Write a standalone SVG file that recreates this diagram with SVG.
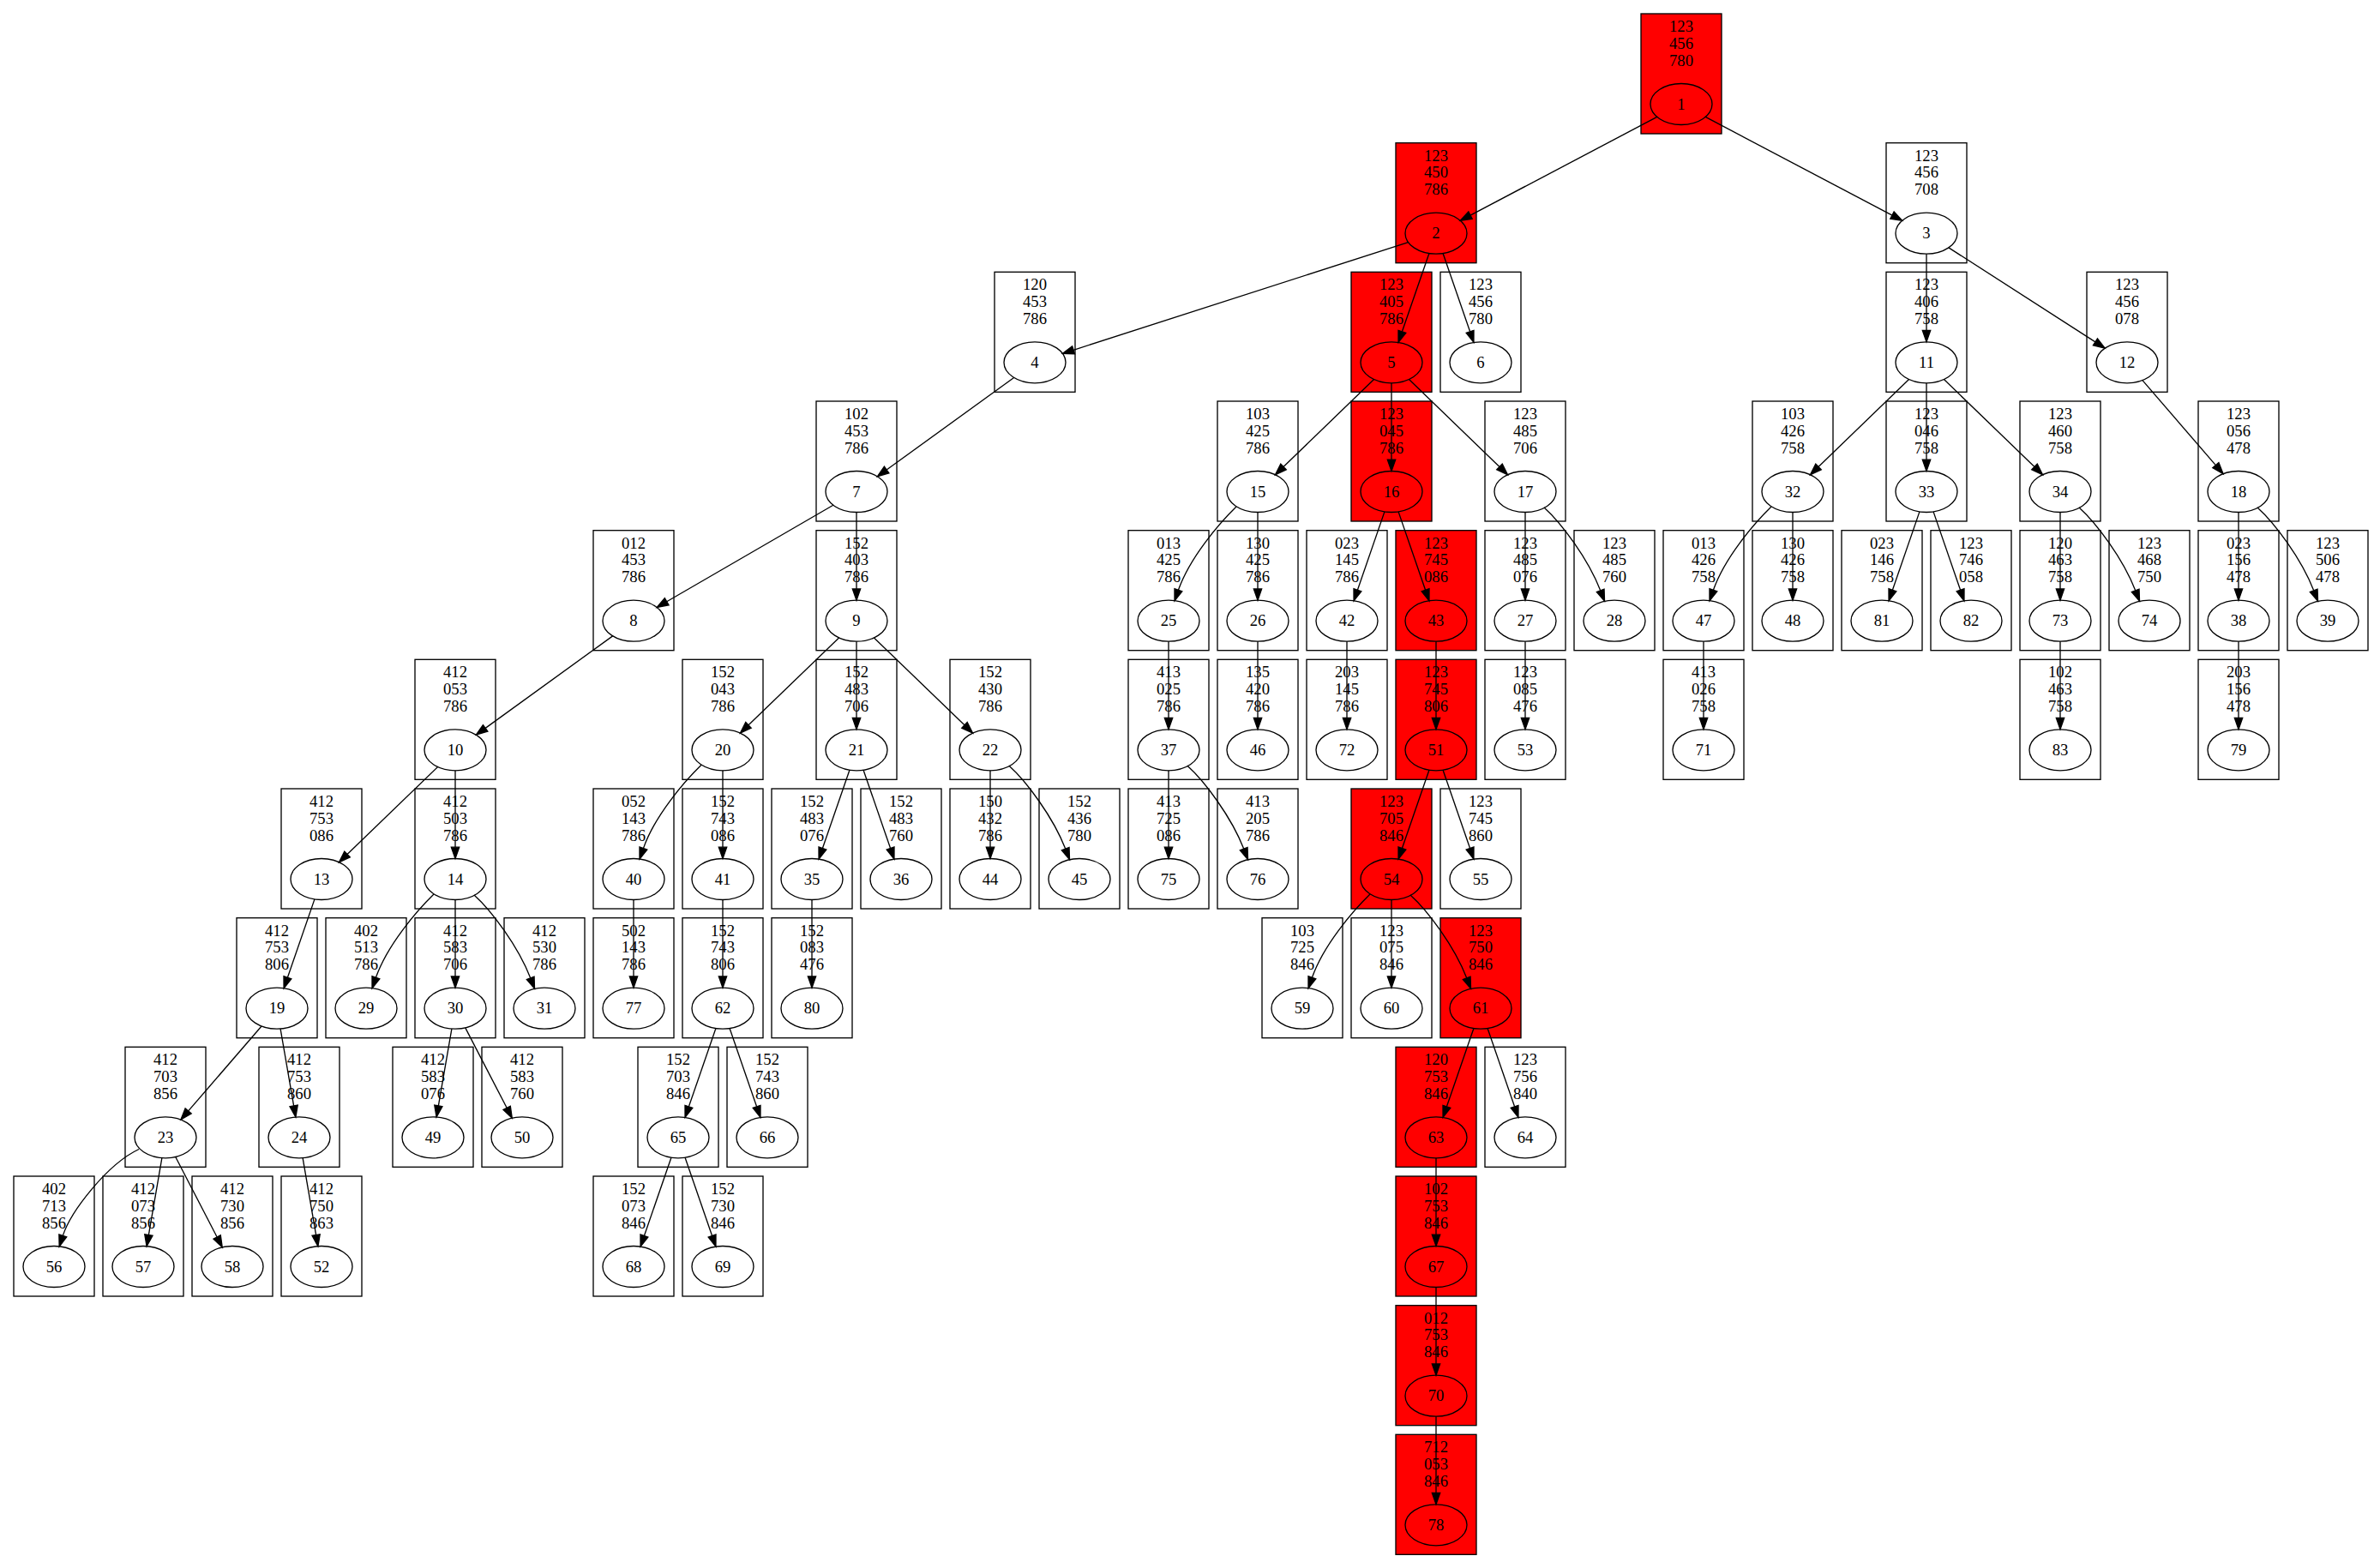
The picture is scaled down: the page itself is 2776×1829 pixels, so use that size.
<svg xmlns="http://www.w3.org/2000/svg" width="2776" height="1829" viewBox="0 0 2776 1829">
<style>
.node use{fill:#fff;stroke:#000;stroke-width:1.33}
.red use{fill:#f00}
text{font-family:"Liberation Serif","Times New Roman",serif;font-size:18.67px;text-anchor:middle;fill:#000;stroke:none}
#edges path{fill:none;stroke:#000;stroke-width:1.33;marker-end:url(#arr)}
</style>
<defs>
<marker id="arr" markerUnits="userSpaceOnUse" markerWidth="16" markerHeight="12" refX="0" refY="5" orient="auto" overflow="visible"><path d="M0,0.33 L13.33,5 L0,9.67 Z" fill="#000" stroke="#000" stroke-width="1.33"/></marker>
<g id="shape"><rect x="0" y="0" width="94" height="140"/><ellipse cx="47" cy="105.5" rx="36" ry="24"/></g>
</defs>
<rect width="2776" height="1829" fill="#fff"/>
<g id="nodes">
<g id="n1" class="node red" transform="translate(1914,16)"><use href="#shape"/><text x="47" y="21">123<tspan x="47" dy="19.8">456</tspan><tspan x="47" dy="19.8">780</tspan></text><text x="47" y="111.6">1</text></g>
<g id="n2" class="node red" transform="translate(1628,166.7)"><use href="#shape"/><text x="47" y="21">123<tspan x="47" dy="19.8">450</tspan><tspan x="47" dy="19.8">786</tspan></text><text x="47" y="111.6">2</text></g>
<g id="n3" class="node" transform="translate(2200,166.7)"><use href="#shape"/><text x="47" y="21">123<tspan x="47" dy="19.8">456</tspan><tspan x="47" dy="19.8">708</tspan></text><text x="47" y="111.6">3</text></g>
<g id="n4" class="node" transform="translate(1160,317.3)"><use href="#shape"/><text x="47" y="21">120<tspan x="47" dy="19.8">453</tspan><tspan x="47" dy="19.8">786</tspan></text><text x="47" y="111.6">4</text></g>
<g id="n5" class="node red" transform="translate(1576,317.3)"><use href="#shape"/><text x="47" y="21">123<tspan x="47" dy="19.8">405</tspan><tspan x="47" dy="19.8">786</tspan></text><text x="47" y="111.6">5</text></g>
<g id="n6" class="node" transform="translate(1680,317.3)"><use href="#shape"/><text x="47" y="21">123<tspan x="47" dy="19.8">456</tspan><tspan x="47" dy="19.8">780</tspan></text><text x="47" y="111.6">6</text></g>
<g id="n11" class="node" transform="translate(2200,317.3)"><use href="#shape"/><text x="47" y="21">123<tspan x="47" dy="19.8">406</tspan><tspan x="47" dy="19.8">758</tspan></text><text x="47" y="111.6">11</text></g>
<g id="n12" class="node" transform="translate(2434,317.3)"><use href="#shape"/><text x="47" y="21">123<tspan x="47" dy="19.8">456</tspan><tspan x="47" dy="19.8">078</tspan></text><text x="47" y="111.6">12</text></g>
<g id="n7" class="node" transform="translate(952,468)"><use href="#shape"/><text x="47" y="21">102<tspan x="47" dy="19.8">453</tspan><tspan x="47" dy="19.8">786</tspan></text><text x="47" y="111.6">7</text></g>
<g id="n15" class="node" transform="translate(1420,468)"><use href="#shape"/><text x="47" y="21">103<tspan x="47" dy="19.8">425</tspan><tspan x="47" dy="19.8">786</tspan></text><text x="47" y="111.6">15</text></g>
<g id="n16" class="node red" transform="translate(1576,468)"><use href="#shape"/><text x="47" y="21">123<tspan x="47" dy="19.8">045</tspan><tspan x="47" dy="19.8">786</tspan></text><text x="47" y="111.6">16</text></g>
<g id="n17" class="node" transform="translate(1732,468)"><use href="#shape"/><text x="47" y="21">123<tspan x="47" dy="19.8">485</tspan><tspan x="47" dy="19.8">706</tspan></text><text x="47" y="111.6">17</text></g>
<g id="n32" class="node" transform="translate(2044,468)"><use href="#shape"/><text x="47" y="21">103<tspan x="47" dy="19.8">426</tspan><tspan x="47" dy="19.8">758</tspan></text><text x="47" y="111.6">32</text></g>
<g id="n33" class="node" transform="translate(2200,468)"><use href="#shape"/><text x="47" y="21">123<tspan x="47" dy="19.8">046</tspan><tspan x="47" dy="19.8">758</tspan></text><text x="47" y="111.6">33</text></g>
<g id="n34" class="node" transform="translate(2356,468)"><use href="#shape"/><text x="47" y="21">123<tspan x="47" dy="19.8">460</tspan><tspan x="47" dy="19.8">758</tspan></text><text x="47" y="111.6">34</text></g>
<g id="n18" class="node" transform="translate(2564,468)"><use href="#shape"/><text x="47" y="21">123<tspan x="47" dy="19.8">056</tspan><tspan x="47" dy="19.8">478</tspan></text><text x="47" y="111.6">18</text></g>
<g id="n8" class="node" transform="translate(692,618.7)"><use href="#shape"/><text x="47" y="21">012<tspan x="47" dy="19.8">453</tspan><tspan x="47" dy="19.8">786</tspan></text><text x="47" y="111.6">8</text></g>
<g id="n9" class="node" transform="translate(952,618.7)"><use href="#shape"/><text x="47" y="21">152<tspan x="47" dy="19.8">403</tspan><tspan x="47" dy="19.8">786</tspan></text><text x="47" y="111.6">9</text></g>
<g id="n25" class="node" transform="translate(1316,618.7)"><use href="#shape"/><text x="47" y="21">013<tspan x="47" dy="19.8">425</tspan><tspan x="47" dy="19.8">786</tspan></text><text x="47" y="111.6">25</text></g>
<g id="n26" class="node" transform="translate(1420,618.7)"><use href="#shape"/><text x="47" y="21">130<tspan x="47" dy="19.8">425</tspan><tspan x="47" dy="19.8">786</tspan></text><text x="47" y="111.6">26</text></g>
<g id="n42" class="node" transform="translate(1524,618.7)"><use href="#shape"/><text x="47" y="21">023<tspan x="47" dy="19.8">145</tspan><tspan x="47" dy="19.8">786</tspan></text><text x="47" y="111.6">42</text></g>
<g id="n43" class="node red" transform="translate(1628,618.7)"><use href="#shape"/><text x="47" y="21">123<tspan x="47" dy="19.8">745</tspan><tspan x="47" dy="19.8">086</tspan></text><text x="47" y="111.6">43</text></g>
<g id="n27" class="node" transform="translate(1732,618.7)"><use href="#shape"/><text x="47" y="21">123<tspan x="47" dy="19.8">485</tspan><tspan x="47" dy="19.8">076</tspan></text><text x="47" y="111.6">27</text></g>
<g id="n28" class="node" transform="translate(1836,618.7)"><use href="#shape"/><text x="47" y="21">123<tspan x="47" dy="19.8">485</tspan><tspan x="47" dy="19.8">760</tspan></text><text x="47" y="111.6">28</text></g>
<g id="n47" class="node" transform="translate(1940,618.7)"><use href="#shape"/><text x="47" y="21">013<tspan x="47" dy="19.8">426</tspan><tspan x="47" dy="19.8">758</tspan></text><text x="47" y="111.6">47</text></g>
<g id="n48" class="node" transform="translate(2044,618.7)"><use href="#shape"/><text x="47" y="21">130<tspan x="47" dy="19.8">426</tspan><tspan x="47" dy="19.8">758</tspan></text><text x="47" y="111.6">48</text></g>
<g id="n81" class="node" transform="translate(2148,618.7)"><use href="#shape"/><text x="47" y="21">023<tspan x="47" dy="19.8">146</tspan><tspan x="47" dy="19.8">758</tspan></text><text x="47" y="111.6">81</text></g>
<g id="n82" class="node" transform="translate(2252,618.7)"><use href="#shape"/><text x="47" y="21">123<tspan x="47" dy="19.8">746</tspan><tspan x="47" dy="19.8">058</tspan></text><text x="47" y="111.6">82</text></g>
<g id="n73" class="node" transform="translate(2356,618.7)"><use href="#shape"/><text x="47" y="21">120<tspan x="47" dy="19.8">463</tspan><tspan x="47" dy="19.8">758</tspan></text><text x="47" y="111.6">73</text></g>
<g id="n74" class="node" transform="translate(2460,618.7)"><use href="#shape"/><text x="47" y="21">123<tspan x="47" dy="19.8">468</tspan><tspan x="47" dy="19.8">750</tspan></text><text x="47" y="111.6">74</text></g>
<g id="n38" class="node" transform="translate(2564,618.7)"><use href="#shape"/><text x="47" y="21">023<tspan x="47" dy="19.8">156</tspan><tspan x="47" dy="19.8">478</tspan></text><text x="47" y="111.6">38</text></g>
<g id="n39" class="node" transform="translate(2668,618.7)"><use href="#shape"/><text x="47" y="21">123<tspan x="47" dy="19.8">506</tspan><tspan x="47" dy="19.8">478</tspan></text><text x="47" y="111.6">39</text></g>
<g id="n10" class="node" transform="translate(484,769.3)"><use href="#shape"/><text x="47" y="21">412<tspan x="47" dy="19.8">053</tspan><tspan x="47" dy="19.8">786</tspan></text><text x="47" y="111.6">10</text></g>
<g id="n20" class="node" transform="translate(796,769.3)"><use href="#shape"/><text x="47" y="21">152<tspan x="47" dy="19.8">043</tspan><tspan x="47" dy="19.8">786</tspan></text><text x="47" y="111.6">20</text></g>
<g id="n21" class="node" transform="translate(952,769.3)"><use href="#shape"/><text x="47" y="21">152<tspan x="47" dy="19.8">483</tspan><tspan x="47" dy="19.8">706</tspan></text><text x="47" y="111.6">21</text></g>
<g id="n22" class="node" transform="translate(1108,769.3)"><use href="#shape"/><text x="47" y="21">152<tspan x="47" dy="19.8">430</tspan><tspan x="47" dy="19.8">786</tspan></text><text x="47" y="111.6">22</text></g>
<g id="n37" class="node" transform="translate(1316,769.3)"><use href="#shape"/><text x="47" y="21">413<tspan x="47" dy="19.8">025</tspan><tspan x="47" dy="19.8">786</tspan></text><text x="47" y="111.6">37</text></g>
<g id="n46" class="node" transform="translate(1420,769.3)"><use href="#shape"/><text x="47" y="21">135<tspan x="47" dy="19.8">420</tspan><tspan x="47" dy="19.8">786</tspan></text><text x="47" y="111.6">46</text></g>
<g id="n72" class="node" transform="translate(1524,769.3)"><use href="#shape"/><text x="47" y="21">203<tspan x="47" dy="19.8">145</tspan><tspan x="47" dy="19.8">786</tspan></text><text x="47" y="111.6">72</text></g>
<g id="n51" class="node red" transform="translate(1628,769.3)"><use href="#shape"/><text x="47" y="21">123<tspan x="47" dy="19.8">745</tspan><tspan x="47" dy="19.8">806</tspan></text><text x="47" y="111.6">51</text></g>
<g id="n53" class="node" transform="translate(1732,769.3)"><use href="#shape"/><text x="47" y="21">123<tspan x="47" dy="19.8">085</tspan><tspan x="47" dy="19.8">476</tspan></text><text x="47" y="111.6">53</text></g>
<g id="n71" class="node" transform="translate(1940,769.3)"><use href="#shape"/><text x="47" y="21">413<tspan x="47" dy="19.8">026</tspan><tspan x="47" dy="19.8">758</tspan></text><text x="47" y="111.6">71</text></g>
<g id="n83" class="node" transform="translate(2356,769.3)"><use href="#shape"/><text x="47" y="21">102<tspan x="47" dy="19.8">463</tspan><tspan x="47" dy="19.8">758</tspan></text><text x="47" y="111.6">83</text></g>
<g id="n79" class="node" transform="translate(2564,769.3)"><use href="#shape"/><text x="47" y="21">203<tspan x="47" dy="19.8">156</tspan><tspan x="47" dy="19.8">478</tspan></text><text x="47" y="111.6">79</text></g>
<g id="n13" class="node" transform="translate(328,920)"><use href="#shape"/><text x="47" y="21">412<tspan x="47" dy="19.8">753</tspan><tspan x="47" dy="19.8">086</tspan></text><text x="47" y="111.6">13</text></g>
<g id="n14" class="node" transform="translate(484,920)"><use href="#shape"/><text x="47" y="21">412<tspan x="47" dy="19.8">503</tspan><tspan x="47" dy="19.8">786</tspan></text><text x="47" y="111.6">14</text></g>
<g id="n40" class="node" transform="translate(692,920)"><use href="#shape"/><text x="47" y="21">052<tspan x="47" dy="19.8">143</tspan><tspan x="47" dy="19.8">786</tspan></text><text x="47" y="111.6">40</text></g>
<g id="n41" class="node" transform="translate(796,920)"><use href="#shape"/><text x="47" y="21">152<tspan x="47" dy="19.8">743</tspan><tspan x="47" dy="19.8">086</tspan></text><text x="47" y="111.6">41</text></g>
<g id="n35" class="node" transform="translate(900,920)"><use href="#shape"/><text x="47" y="21">152<tspan x="47" dy="19.8">483</tspan><tspan x="47" dy="19.8">076</tspan></text><text x="47" y="111.6">35</text></g>
<g id="n36" class="node" transform="translate(1004,920)"><use href="#shape"/><text x="47" y="21">152<tspan x="47" dy="19.8">483</tspan><tspan x="47" dy="19.8">760</tspan></text><text x="47" y="111.6">36</text></g>
<g id="n44" class="node" transform="translate(1108,920)"><use href="#shape"/><text x="47" y="21">150<tspan x="47" dy="19.8">432</tspan><tspan x="47" dy="19.8">786</tspan></text><text x="47" y="111.6">44</text></g>
<g id="n45" class="node" transform="translate(1212,920)"><use href="#shape"/><text x="47" y="21">152<tspan x="47" dy="19.8">436</tspan><tspan x="47" dy="19.8">780</tspan></text><text x="47" y="111.6">45</text></g>
<g id="n75" class="node" transform="translate(1316,920)"><use href="#shape"/><text x="47" y="21">413<tspan x="47" dy="19.8">725</tspan><tspan x="47" dy="19.8">086</tspan></text><text x="47" y="111.6">75</text></g>
<g id="n76" class="node" transform="translate(1420,920)"><use href="#shape"/><text x="47" y="21">413<tspan x="47" dy="19.8">205</tspan><tspan x="47" dy="19.8">786</tspan></text><text x="47" y="111.6">76</text></g>
<g id="n54" class="node red" transform="translate(1576,920)"><use href="#shape"/><text x="47" y="21">123<tspan x="47" dy="19.8">705</tspan><tspan x="47" dy="19.8">846</tspan></text><text x="47" y="111.6">54</text></g>
<g id="n55" class="node" transform="translate(1680,920)"><use href="#shape"/><text x="47" y="21">123<tspan x="47" dy="19.8">745</tspan><tspan x="47" dy="19.8">860</tspan></text><text x="47" y="111.6">55</text></g>
<g id="n19" class="node" transform="translate(276,1070.7)"><use href="#shape"/><text x="47" y="21">412<tspan x="47" dy="19.8">753</tspan><tspan x="47" dy="19.8">806</tspan></text><text x="47" y="111.6">19</text></g>
<g id="n29" class="node" transform="translate(380,1070.7)"><use href="#shape"/><text x="47" y="21">402<tspan x="47" dy="19.8">513</tspan><tspan x="47" dy="19.8">786</tspan></text><text x="47" y="111.6">29</text></g>
<g id="n30" class="node" transform="translate(484,1070.7)"><use href="#shape"/><text x="47" y="21">412<tspan x="47" dy="19.8">583</tspan><tspan x="47" dy="19.8">706</tspan></text><text x="47" y="111.6">30</text></g>
<g id="n31" class="node" transform="translate(588,1070.7)"><use href="#shape"/><text x="47" y="21">412<tspan x="47" dy="19.8">530</tspan><tspan x="47" dy="19.8">786</tspan></text><text x="47" y="111.6">31</text></g>
<g id="n77" class="node" transform="translate(692,1070.7)"><use href="#shape"/><text x="47" y="21">502<tspan x="47" dy="19.8">143</tspan><tspan x="47" dy="19.8">786</tspan></text><text x="47" y="111.6">77</text></g>
<g id="n62" class="node" transform="translate(796,1070.7)"><use href="#shape"/><text x="47" y="21">152<tspan x="47" dy="19.8">743</tspan><tspan x="47" dy="19.8">806</tspan></text><text x="47" y="111.6">62</text></g>
<g id="n80" class="node" transform="translate(900,1070.7)"><use href="#shape"/><text x="47" y="21">152<tspan x="47" dy="19.8">083</tspan><tspan x="47" dy="19.8">476</tspan></text><text x="47" y="111.6">80</text></g>
<g id="n59" class="node" transform="translate(1472,1070.7)"><use href="#shape"/><text x="47" y="21">103<tspan x="47" dy="19.8">725</tspan><tspan x="47" dy="19.8">846</tspan></text><text x="47" y="111.6">59</text></g>
<g id="n60" class="node" transform="translate(1576,1070.7)"><use href="#shape"/><text x="47" y="21">123<tspan x="47" dy="19.8">075</tspan><tspan x="47" dy="19.8">846</tspan></text><text x="47" y="111.6">60</text></g>
<g id="n61" class="node red" transform="translate(1680,1070.7)"><use href="#shape"/><text x="47" y="21">123<tspan x="47" dy="19.8">750</tspan><tspan x="47" dy="19.8">846</tspan></text><text x="47" y="111.6">61</text></g>
<g id="n23" class="node" transform="translate(146,1221.3)"><use href="#shape"/><text x="47" y="21">412<tspan x="47" dy="19.8">703</tspan><tspan x="47" dy="19.8">856</tspan></text><text x="47" y="111.6">23</text></g>
<g id="n24" class="node" transform="translate(302,1221.3)"><use href="#shape"/><text x="47" y="21">412<tspan x="47" dy="19.8">753</tspan><tspan x="47" dy="19.8">860</tspan></text><text x="47" y="111.6">24</text></g>
<g id="n49" class="node" transform="translate(458,1221.3)"><use href="#shape"/><text x="47" y="21">412<tspan x="47" dy="19.8">583</tspan><tspan x="47" dy="19.8">076</tspan></text><text x="47" y="111.6">49</text></g>
<g id="n50" class="node" transform="translate(562,1221.3)"><use href="#shape"/><text x="47" y="21">412<tspan x="47" dy="19.8">583</tspan><tspan x="47" dy="19.8">760</tspan></text><text x="47" y="111.6">50</text></g>
<g id="n65" class="node" transform="translate(744,1221.3)"><use href="#shape"/><text x="47" y="21">152<tspan x="47" dy="19.8">703</tspan><tspan x="47" dy="19.8">846</tspan></text><text x="47" y="111.6">65</text></g>
<g id="n66" class="node" transform="translate(848,1221.3)"><use href="#shape"/><text x="47" y="21">152<tspan x="47" dy="19.8">743</tspan><tspan x="47" dy="19.8">860</tspan></text><text x="47" y="111.6">66</text></g>
<g id="n63" class="node red" transform="translate(1628,1221.3)"><use href="#shape"/><text x="47" y="21">120<tspan x="47" dy="19.8">753</tspan><tspan x="47" dy="19.8">846</tspan></text><text x="47" y="111.6">63</text></g>
<g id="n64" class="node" transform="translate(1732,1221.3)"><use href="#shape"/><text x="47" y="21">123<tspan x="47" dy="19.8">756</tspan><tspan x="47" dy="19.8">840</tspan></text><text x="47" y="111.6">64</text></g>
<g id="n56" class="node" transform="translate(16,1372)"><use href="#shape"/><text x="47" y="21">402<tspan x="47" dy="19.8">713</tspan><tspan x="47" dy="19.8">856</tspan></text><text x="47" y="111.6">56</text></g>
<g id="n57" class="node" transform="translate(120,1372)"><use href="#shape"/><text x="47" y="21">412<tspan x="47" dy="19.8">073</tspan><tspan x="47" dy="19.8">856</tspan></text><text x="47" y="111.6">57</text></g>
<g id="n58" class="node" transform="translate(224,1372)"><use href="#shape"/><text x="47" y="21">412<tspan x="47" dy="19.8">730</tspan><tspan x="47" dy="19.8">856</tspan></text><text x="47" y="111.6">58</text></g>
<g id="n52" class="node" transform="translate(328,1372)"><use href="#shape"/><text x="47" y="21">412<tspan x="47" dy="19.8">750</tspan><tspan x="47" dy="19.8">863</tspan></text><text x="47" y="111.6">52</text></g>
<g id="n68" class="node" transform="translate(692,1372)"><use href="#shape"/><text x="47" y="21">152<tspan x="47" dy="19.8">073</tspan><tspan x="47" dy="19.8">846</tspan></text><text x="47" y="111.6">68</text></g>
<g id="n69" class="node" transform="translate(796,1372)"><use href="#shape"/><text x="47" y="21">152<tspan x="47" dy="19.8">730</tspan><tspan x="47" dy="19.8">846</tspan></text><text x="47" y="111.6">69</text></g>
<g id="n67" class="node red" transform="translate(1628,1372)"><use href="#shape"/><text x="47" y="21">102<tspan x="47" dy="19.8">753</tspan><tspan x="47" dy="19.8">846</tspan></text><text x="47" y="111.6">67</text></g>
<g id="n70" class="node red" transform="translate(1628,1522.7)"><use href="#shape"/><text x="47" y="21">012<tspan x="47" dy="19.8">753</tspan><tspan x="47" dy="19.8">846</tspan></text><text x="47" y="111.6">70</text></g>
<g id="n78" class="node red" transform="translate(1628,1673.3)"><use href="#shape"/><text x="47" y="21">712<tspan x="47" dy="19.8">053</tspan><tspan x="47" dy="19.8">846</tspan></text><text x="47" y="111.6">78</text></g>
</g>
<g id="edges">
<path d="M1932.75,136.38 L1715.02,251.12"/>
<path d="M1989.25,136.38 L2206.98,251.12"/>
<path d="M1642.58,282.64 L1252.08,408.28"/>
<path d="M1666.93,295.59 L1635.41,386.84"/>
<path d="M1683.07,295.59 L1714.59,386.84"/>
<path d="M2247,296.2 L2247,385.5"/>
<path d="M2272.89,288.87 L2443.93,398.93"/>
<path d="M1182.62,440.46 L1034.15,548.04"/>
<path d="M1602.55,442.55 L1497.02,544.51"/>
<path d="M1623,446.8 L1623,536.2"/>
<path d="M1643.45,442.55 L1748.98,544.51"/>
<path d="M2226.55,442.55 L2121.02,544.51"/>
<path d="M2247,446.8 L2247,536.2"/>
<path d="M2267.45,442.55 L2372.98,544.51"/>
<path d="M2498.95,443.6 L2584.36,542.63"/>
<path d="M971.83,589.25 L777.68,701.78"/>
<path d="M999,597.5 L999,686.9"/>
<path d="M1442,591 c-20,19.5 -54.4,59.5 -67.6,97.3"/>
<path d="M1467,597.5 L1467,686.9"/>
<path d="M1614.93,596.89 L1583.41,688.24"/>
<path d="M1631.07,596.89 L1662.59,688.24"/>
<path d="M1779,597.5 L1779,686.9"/>
<path d="M1801,592 c20,18 51.3,59.6 65.7,96.8"/>
<path d="M2066,591 c-20,19.5 -54.4,59.5 -67.6,97.3"/>
<path d="M2091,597.5 L2091,686.9"/>
<path d="M2238.93,596.89 L2207.41,688.24"/>
<path d="M2255.07,596.89 L2286.59,688.24"/>
<path d="M2403,597.5 L2403,686.9"/>
<path d="M2425,592 c20,18 51.3,59.6 65.7,96.8"/>
<path d="M2611,597.5 L2611,686.9"/>
<path d="M2633,592 c20,18 51.3,59.6 65.7,96.8"/>
<path d="M714.62,741.86 L566.15,849.34"/>
<path d="M978.55,743.95 L873.02,845.81"/>
<path d="M999,748.2 L999,837.5"/>
<path d="M1019.45,743.95 L1124.98,845.81"/>
<path d="M1363,748.2 L1363,837.5"/>
<path d="M1467,748.2 L1467,837.5"/>
<path d="M1571,748.2 L1571,837.5"/>
<path d="M1675,748.2 L1675,837.5"/>
<path d="M1779,748.2 L1779,837.5"/>
<path d="M1987,748.2 L1987,837.5"/>
<path d="M2403,748.2 L2403,837.5"/>
<path d="M2611,748.2 L2611,837.5"/>
<path d="M510.55,894.55 L405.02,996.51"/>
<path d="M531,898.8 L531,988.2"/>
<path d="M818,892.3 c-20,19.5 -54.4,59.5 -67.6,97.3"/>
<path d="M843,898.8 L843,988.2"/>
<path d="M990.93,898.19 L959.41,989.54"/>
<path d="M1007.07,898.19 L1038.59,989.54"/>
<path d="M1155,898.8 L1155,988.2"/>
<path d="M1177,893.3 c20,18 51.3,59.6 65.7,96.8"/>
<path d="M1363,898.8 L1363,988.2"/>
<path d="M1385,893.3 c20,18 51.3,59.6 65.7,96.8"/>
<path d="M1666.93,898.19 L1635.41,989.54"/>
<path d="M1683.07,898.19 L1714.59,989.54"/>
<path d="M366.93,1048.89 L335.41,1140.24"/>
<path d="M506,1043 c-20,19.5 -54.4,59.5 -67.6,97.3"/>
<path d="M531,1049.5 L531,1138.9"/>
<path d="M553,1044 c20,18 51.3,59.6 65.7,96.8"/>
<path d="M739,1049.5 L739,1138.9"/>
<path d="M843,1049.5 L843,1138.9"/>
<path d="M947,1049.5 L947,1138.9"/>
<path d="M1598,1043 c-20,19.5 -54.4,59.5 -67.6,97.3"/>
<path d="M1623,1049.5 L1623,1138.9"/>
<path d="M1645,1044 c20,18 51.3,59.6 65.7,96.8"/>
<path d="M305.05,1197 L219.64,1295.93"/>
<path d="M327.11,1200.04 L342.63,1289.85"/>
<path d="M526.89,1200.04 L511.37,1289.85"/>
<path d="M542.75,1198.89 L591.14,1292.3"/>
<path d="M834.93,1199.59 L803.41,1290.84"/>
<path d="M851.07,1199.59 L882.59,1290.84"/>
<path d="M1718.93,1199.59 L1687.41,1290.84"/>
<path d="M1735.07,1199.59 L1766.59,1290.84"/>
<path d="M162,1340.5 C125,1358 82.6,1412.9 73.3,1441.4"/>
<path d="M188.89,1350.64 L173.37,1440.55"/>
<path d="M204.75,1349.49 L253.14,1443"/>
<path d="M353.11,1350.64 L368.63,1440.55"/>
<path d="M782.93,1350.19 L751.41,1441.54"/>
<path d="M799.07,1350.19 L830.59,1441.54"/>
<path d="M1675,1350.8 L1675,1440.2"/>
<path d="M1675,1501.5 L1675,1590.9"/>
<path d="M1675,1652.2 L1675,1741.5"/>
</g>
</svg>
